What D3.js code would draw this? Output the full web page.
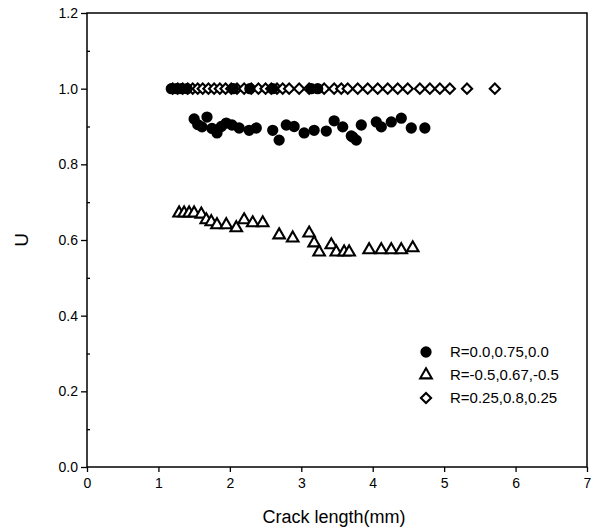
<!DOCTYPE html>
<html>
<head>
<meta charset="utf-8">
<script src="https://cdn.jsdelivr.net/npm/d3@7"></script>
<style>
  body { margin: 0; background: #fff; }
  svg { font-family: "Liberation Sans", Arial, sans-serif; }
</style>
</head>
<body>
<div id="chart"></div>
<script>
// Crack length (mm) vs U, three R-ratio series

const xTicks = [0, 1, 2, 3, 4, 5, 6, 7];
const yTicks = [0.0, 0.2, 0.4, 0.6, 0.8, 1.0, 1.2];

const seriesNames = ["R=0.0,0.75,0.0", "R=-0.5,0.67,-0.5", "R=0.25,0.8,0.25"];

// filled circles
const circleX = [1.18, 1.25, 1.32, 1.40, 2.05, 2.28, 2.6, 3.14, 3.23,
  1.5, 1.68, 1.61, 1.82, 1.95, 2.03, 2.13, 2.27, 2.37, 2.6, 2.69, 2.79, 2.9, 3.04,
  3.18, 3.35, 3.46, 3.58, 3.7, 3.72, 3.77, 3.84, 4.05, 4.12, 4.26, 4.4, 4.54, 4.73,
  1.55, 1.75, 1.88];
const circleY = [1.0, 1.0, 1.0, 1.0, 1.0, 1.0, 1.0, 1.0, 1.0,
  0.92, 0.925, 0.899, 0.883, 0.909, 0.904, 0.896, 0.89, 0.896, 0.89, 0.864, 0.904, 0.9, 0.883,
  0.89, 0.888, 0.915, 0.899, 0.875, 0.872, 0.864, 0.904, 0.912, 0.899, 0.912, 0.922, 0.896, 0.896,
  0.905, 0.895, 0.9];

// open triangles
const triX = [1.29, 1.36, 1.43, 1.5, 1.6, 1.67, 1.74, 1.82, 1.95, 2.09, 2.2, 2.32, 2.46,
  2.69, 2.88, 3.11, 3.18, 3.25, 3.42, 3.49, 3.6, 3.67, 3.95, 4.12, 4.26, 4.4, 4.56];
const triY = [0.671, 0.671, 0.671, 0.671, 0.668, 0.653, 0.648, 0.64, 0.64, 0.632, 0.653, 0.645, 0.645,
  0.613, 0.605, 0.618, 0.592, 0.568, 0.587, 0.568, 0.568, 0.568, 0.574, 0.574, 0.574, 0.574, 0.579];

// open diamonds
const diaX = [1.2, 1.27, 1.34, 1.41, 1.48, 1.55, 1.62, 1.7, 1.78, 1.86, 1.94, 2.02, 2.1, 2.2,
  2.3, 2.4, 2.5, 2.58, 2.66, 2.74, 2.83, 2.97, 3.11, 3.32, 3.46, 3.56, 3.65, 3.79, 3.93,
  4.07, 4.21, 4.35, 4.49, 4.66, 4.8, 4.94, 5.08, 5.32, 5.71];
const diaY = diaX.map(() => 1.0);

const WIDTH = 599, HEIGHT = 529;
const margin = {top: 13, right: 12, bottom: 62, left: 87};

const svg = d3.select("#chart").append("svg")
  .attr("width", WIDTH).attr("height", HEIGHT);

const x = d3.scaleLinear().domain([0, 7]).range([margin.left, WIDTH - margin.right]);
const y = d3.scaleLinear().domain([0, 1.2]).range([HEIGHT - margin.bottom, margin.top]);

// frame
svg.append("rect")
  .attr("x", x(0)).attr("y", y(1.2))
  .attr("width", x(7) - x(0)).attr("height", y(0) - y(1.2))
  .attr("fill", "none").attr("stroke", "#000").attr("stroke-width", 1.5);

// x axis with minor ticks
const gx = svg.append("g").attr("transform", `translate(0,${y(0)})`);
gx.call(d3.axisBottom(x).tickValues(d3.range(0.5, 7, 1)).tickSize(3).tickFormat(""));
gx.call(d3.axisBottom(x).tickValues(xTicks).tickSize(5).tickPadding(6).tickFormat(d3.format("d")));
gx.select(".domain").remove();
gx.selectAll("line").attr("stroke-width", 1.3);
gx.selectAll("text").attr("font-size", 14).attr("fill", "#000");

// y axis with minor ticks
const gy = svg.append("g").attr("transform", `translate(${x(0)},0)`);
gy.append("g").call(d3.axisRight(y).tickValues(d3.range(0.1, 1.2, 0.2)).tickSize(3).tickFormat(""));
gy.append("g").call(d3.axisLeft(y).tickValues(yTicks).tickSize(6).tickPadding(3).tickFormat(d3.format(".1f")));
gy.selectAll(".domain").remove();
gy.selectAll("line").attr("stroke-width", 1.3);
gy.selectAll("text").attr("font-size", 14).attr("fill", "#000");

// axis titles
svg.append("text")
  .attr("x", (x(0) + x(7)) / 2 - 3).attr("y", 523)
  .attr("text-anchor", "middle").attr("font-size", 18)
  .text("Crack length(mm)");

svg.append("text")
  .attr("transform", `translate(28,${y(0.6)}) rotate(-90)`)
  .attr("text-anchor", "middle").attr("font-size", 19)
  .text("U");

const plot = svg.append("g");

const sym = {
  circle: d3.symbol().type(d3.symbolCircle).size(100),
  tri: d3.symbol().type(d3.symbolTriangle).size(58),
  dia: d3.symbol().type(d3.symbolSquare).size(52)
};

plot.selectAll(".dia").data(d3.zip(diaX, diaY)).join("path")
  .attr("class", "dia")
  .attr("d", sym.dia)
  .attr("transform", d => `translate(${x(d[0])},${y(d[1])}) rotate(45)`)
  .attr("fill", "#fff").attr("stroke", "#000").attr("stroke-width", 2.1);

plot.selectAll(".tri").data(d3.zip(triX, triY)).join("path")
  .attr("class", "tri")
  .attr("d", sym.tri)
  .attr("transform", d => `translate(${x(d[0])},${y(d[1])})`)
  .attr("fill", "#fff").attr("stroke", "#000").attr("stroke-width", 2.1);

plot.selectAll(".circ").data(d3.zip(circleX, circleY)).join("path")
  .attr("class", "circ")
  .attr("d", sym.circle)
  .attr("transform", d => `translate(${x(d[0])},${y(d[1])})`)
  .attr("fill", "#000");

// legend
const legend = svg.append("g").attr("transform", "translate(426,352)");
const legSym = [
  {d: sym.circle, fill: "#000", rot: 0},
  {d: sym.tri, fill: "#fff", rot: 0},
  {d: sym.dia, fill: "#fff", rot: 45}
];
seriesNames.forEach((name, i) => {
  const row = legend.append("g").attr("transform", `translate(0,${i * 23})`);
  row.append("path")
    .attr("d", legSym[i].d)
    .attr("transform", `rotate(${legSym[i].rot})`)
    .attr("fill", legSym[i].fill).attr("stroke", "#000")
    .attr("stroke-width", i === 0 ? 0 : 2.1);
  row.append("text")
    .attr("x", 24).attr("y", 5)
    .attr("font-size", 15)
    .text(name);
});
</script>
</body>
</html>
